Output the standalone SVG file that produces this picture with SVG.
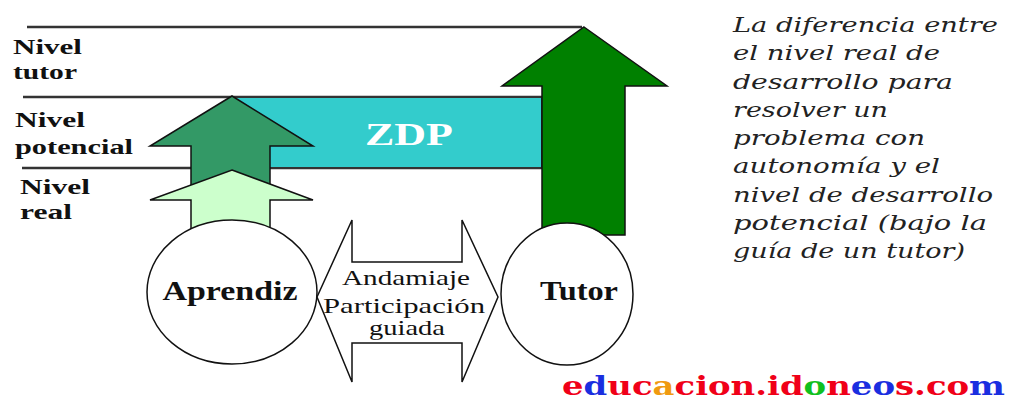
<svg xmlns="http://www.w3.org/2000/svg" width="1009" height="400" viewBox="0 0 1009 400">
<style>
.lvl{fill:none;stroke:#333;stroke-width:2.5}
.ol{stroke:#111;stroke-width:1.5}
.r{fill:#f00018}.b{fill:#1a2ee0}.o{fill:#f09a10}.g{fill:#10c020}
</style>
<rect width="1009" height="400" fill="#fff"/>
<g id="levels">
<line class="lvl" x1="27" y1="27" x2="582" y2="27"/>
<line class="lvl" x1="23" y1="97" x2="542" y2="97"/>
<line class="lvl" x1="22" y1="168" x2="542" y2="168"/>
</g>
<g id="level-labels" font-family="'Liberation Serif', 'Times New Roman', serif" font-weight="bold" font-size="22" fill="#111">
<text x="13" y="54" textLength="69" lengthAdjust="spacingAndGlyphs">Nivel</text>
<text x="13" y="79" textLength="64" lengthAdjust="spacingAndGlyphs">tutor</text>
<text x="15" y="127" textLength="70" lengthAdjust="spacingAndGlyphs">Nivel</text>
<text x="15" y="154" textLength="118" lengthAdjust="spacingAndGlyphs">potencial</text>
<text x="20" y="194" textLength="70" lengthAdjust="spacingAndGlyphs">Nivel</text>
<text x="20" y="219" textLength="52" lengthAdjust="spacingAndGlyphs">real</text>
</g>
<g id="zdp">
<rect x="232" y="97" width="310" height="71" fill="#33CCCC" stroke="#333" stroke-width="2"/>
<text x="409" y="145" textLength="88" lengthAdjust="spacingAndGlyphs" font-family="'Liberation Serif', serif" font-weight="bold" font-size="31" fill="#fff" text-anchor="middle">ZDP</text>
</g>
<g id="arrow-tutor">
<polygon class="ol" fill="#008000" points="584,27 667,86 625,86 625,235 542,235 542,86 502,86"/>
</g>
<g id="arrow-potencial">
<polygon class="ol" fill="#339966" points="232,96 313,146 270,146 270,200 191,200 191,146 150,146"/>
</g>
<g id="arrow-real">
<polygon class="ol" fill="#CCFFCC" points="232,170 313,200 270,200 270,240 191,240 191,200 150,200"/>
</g>
<g id="aprendiz">
<ellipse class="ol" fill="#fff" cx="232" cy="292" rx="85" ry="72"/>
<text x="230" y="300" textLength="135" lengthAdjust="spacingAndGlyphs" font-family="'Liberation Serif', serif" font-weight="bold" font-size="27" fill="#111" text-anchor="middle">Aprendiz</text>
</g>
<g id="tutor">
<ellipse class="ol" fill="#fff" cx="567" cy="294" rx="66" ry="71"/>
<text x="579" y="300" textLength="78" lengthAdjust="spacingAndGlyphs" font-family="'Liberation Serif', serif" font-weight="bold" font-size="27" fill="#111" text-anchor="middle">Tutor</text>
</g>
<g id="connectors">
<polygon class="ol" fill="#fff" points="317,297 352,220 352,262 462,262 462,220 498,297 462,382 462,343 352,343 352,382"/>
<g font-family="'Liberation Serif', serif" font-size="21" fill="#111">
<text x="342" y="285" textLength="128" lengthAdjust="spacingAndGlyphs">Andamiaje</text>
<text x="323" y="313" textLength="162" lengthAdjust="spacingAndGlyphs">Participación</text>
<text x="369" y="335" textLength="76" lengthAdjust="spacingAndGlyphs">guiada</text>
</g>
</g>
<g id="definition" font-family="'DejaVu Serif', 'Liberation Serif', serif" font-style="italic" font-size="21" fill="#222">
<text x="733" y="32" textLength="265" lengthAdjust="spacingAndGlyphs">La diferencia entre</text>
<text x="733" y="60" textLength="207" lengthAdjust="spacingAndGlyphs">el nivel real de</text>
<text x="733" y="88.5" textLength="220" lengthAdjust="spacingAndGlyphs">desarrollo para</text>
<text x="733" y="117" textLength="155" lengthAdjust="spacingAndGlyphs">resolver un</text>
<text x="733" y="145" textLength="192" lengthAdjust="spacingAndGlyphs">problema con</text>
<text x="733" y="173" textLength="207" lengthAdjust="spacingAndGlyphs">autonomía y el</text>
<text x="733" y="201.5" textLength="260" lengthAdjust="spacingAndGlyphs">nivel de desarrollo</text>
<text x="733" y="230" textLength="254" lengthAdjust="spacingAndGlyphs">potencial (bajo la</text>
<text x="733" y="258" textLength="232" lengthAdjust="spacingAndGlyphs">guía de un tutor)</text>
</g>
<g id="watermark" font-family="'DejaVu Serif', 'Liberation Serif', serif" font-weight="bold" font-size="26">
<text x="562" y="395" textLength="443" lengthAdjust="spacingAndGlyphs"><tspan class="r">e</tspan><tspan class="b">d</tspan><tspan class="r">uc</tspan><tspan class="o">a</tspan><tspan class="r">cion.id</tspan><tspan class="g">o</tspan><tspan class="r">n</tspan><tspan class="b">eo</tspan><tspan class="r">s.co</tspan><tspan class="b">m</tspan></text>
</g>
</svg>
